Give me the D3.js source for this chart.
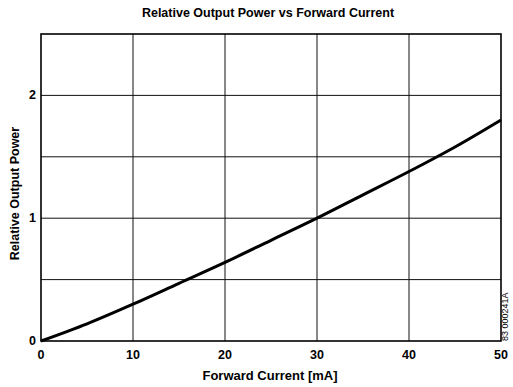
<!DOCTYPE html>
<html>
<head>
<meta charset="utf-8">
<script src="https://cdn.jsdelivr.net/npm/d3@7"></script>
<style>
  body { margin: 0; background: #fff; }
  svg { display: block; font-family: "Liberation Sans", Arial, sans-serif; font-weight: bold; }
</style>
</head>
<body>
<svg id="chart" width="513" height="387"></svg>
<script>
const current = [0, 5, 10, 15, 20, 25, 30, 35, 40, 45, 50];
const power = [0, 0.14, 0.30, 0.47, 0.64, 0.82, 1.0, 1.19, 1.38, 1.58, 1.80];
const xTicks = [0, 10, 20, 30, 40, 50];
const yTicks = [0, 1, 2];
const yGrid = [0.5, 1, 1.5, 2];

const svg = d3.select("#chart");
const margin = { left: 41, right: 12, top: 34, bottom: 46 };
const width = 513, height = 387;

const x = d3.scaleLinear().domain([0, 50]).range([margin.left, width - margin.right]);
const y = d3.scaleLinear().domain([0, 2.5]).range([height - margin.bottom, margin.top]);

// grid
svg.append("g")
    .selectAll("line")
    .data(xTicks.slice(1, -1))
    .join("line")
    .attr("x1", d => x(d)).attr("x2", d => x(d))
    .attr("y1", y(0)).attr("y2", y(2.5))
    .attr("stroke", "#111").attr("stroke-width", 1);

svg.append("g")
    .selectAll("line")
    .data(yGrid)
    .join("line")
    .attr("x1", x(0)).attr("x2", x(50))
    .attr("y1", d => y(d)).attr("y2", d => y(d))
    .attr("stroke", "#111").attr("stroke-width", 1);

// frame
svg.append("rect")
    .attr("x", x(0)).attr("y", y(2.5))
    .attr("width", x(50) - x(0)).attr("height", y(0) - y(2.5))
    .attr("fill", "none").attr("stroke", "#000").attr("stroke-width", 1.6);

// tick labels
svg.append("g")
    .selectAll("text")
    .data(xTicks)
    .join("text")
    .attr("x", d => x(d)).attr("y", y(0) + 18)
    .attr("text-anchor", "middle")
    .attr("font-size", 12.5)
    .text(d => d);

svg.append("g")
    .selectAll("text")
    .data(yTicks)
    .join("text")
    .attr("x", x(0) - 5).attr("y", d => y(d) + 4)
    .attr("text-anchor", "end")
    .attr("font-size", 12.5)
    .text(d => d);

// curve
const line = d3.line()
    .x((d, i) => x(current[i]))
    .y(d => y(d))
    .curve(d3.curveMonotoneX);

svg.append("path")
    .datum(power)
    .attr("d", line)
    .attr("fill", "none")
    .attr("stroke", "#000")
    .attr("stroke-width", 3);

// titles
svg.append("text")
    .attr("x", 268).attr("y", 17)
    .attr("text-anchor", "middle")
    .attr("font-size", 12.5)
    .text("Relative Output Power vs Forward Current");

svg.append("text")
    .attr("x", 270).attr("y", 380)
    .attr("text-anchor", "middle")
    .attr("font-size", 13)
    .text("Forward Current [mA]");

svg.append("text")
    .attr("transform", `translate(19,${(y(0) + y(2.5)) / 2 + 6}) rotate(-90)`)
    .attr("text-anchor", "middle")
    .attr("font-size", 12.5)
    .text("Relative Output Power");

svg.append("text")
    .attr("transform", `translate(508,${y(0)}) rotate(-90)`)
    .attr("text-anchor", "start")
    .attr("font-size", 9)
    .attr("font-weight", "normal")
    .text("83 000241A");
</script>
</body>
</html>
